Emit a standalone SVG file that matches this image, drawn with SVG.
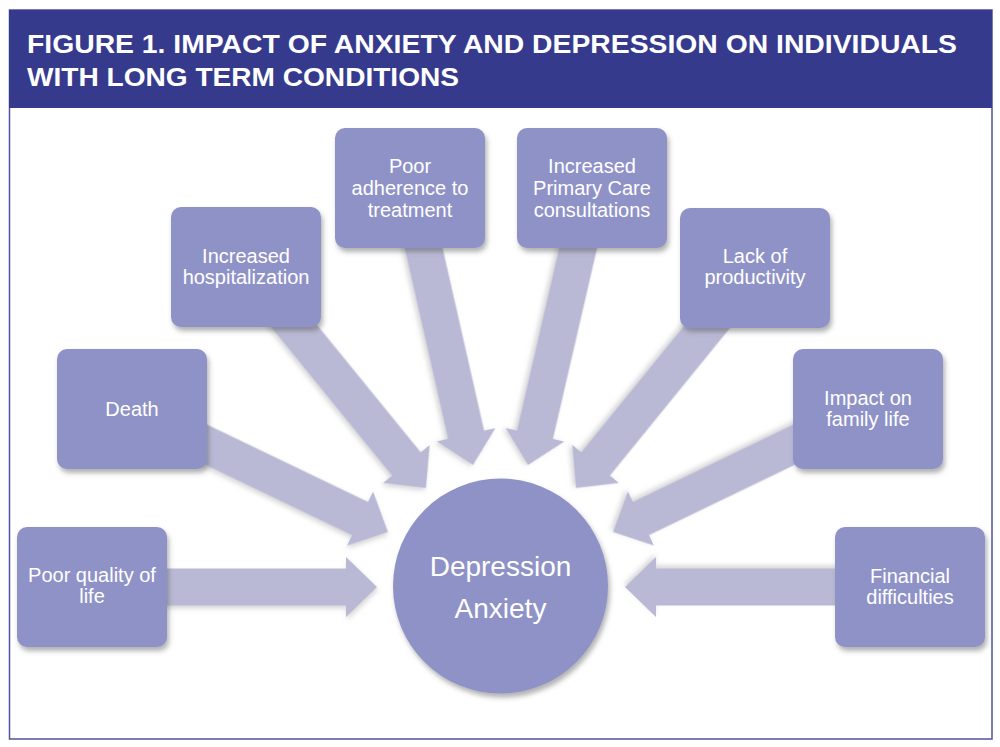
<svg xmlns="http://www.w3.org/2000/svg" width="1000" height="747" viewBox="0 0 1000 747">
<style>
.box{fill:#8f92c7;filter:url(#sh)}
.lbl{fill:#ffffff;font-family:"Liberation Sans",Arial,sans-serif;font-size:20px;text-anchor:middle}
.big{font-size:28px}
.arrow{fill:#b9b9d5;filter:url(#ash)}
.title{fill:#ffffff;font-family:"Liberation Sans",Arial,sans-serif;font-weight:bold;font-size:25px}
</style>
<defs>
<filter id="sh" x="-20%" y="-20%" width="140%" height="140%">
<feDropShadow dx="2" dy="4" stdDeviation="2.5" flood-color="#555555" flood-opacity="0.45"/>
</filter>
<filter id="ash" x="-20%" y="-20%" width="140%" height="140%">
<feDropShadow dx="1" dy="3" stdDeviation="2.5" flood-color="#777777" flood-opacity="0.3"/>
</filter>
<path id="arr" d="M-284,-18.5 L-31,-18.5 L-31,-30 L0,0 L-31,30 L-31,18.5 L-284,18.5 Z"/>
</defs>
<rect x="0" y="0" width="1000" height="747" fill="#ffffff"/>
<rect x="9.5" y="10" width="982.5" height="729" fill="#ffffff" stroke="#4e52a0" stroke-width="1.5"/>
<g id="header">
<rect x="9" y="10" width="983" height="98" fill="#363a8d"/>
<text class="title" x="27" y="53" textLength="930" lengthAdjust="spacingAndGlyphs">FIGURE 1. IMPACT OF ANXIETY AND DEPRESSION ON INDIVIDUALS</text>
<text class="title" x="27" y="86" textLength="432" lengthAdjust="spacingAndGlyphs">WITH LONG TERM CONDITIONS</text>
</g>
<g id="connectors">
<use href="#arr" class="arrow" transform="translate(377,587)"/>
<use href="#arr" class="arrow" transform="translate(388,532) rotate(25.66)"/>
<use href="#arr" class="arrow" transform="translate(426,488) rotate(50.84)"/>
<use href="#arr" class="arrow" transform="translate(473,465) rotate(77.19)"/>
<use href="#arr" class="arrow" transform="translate(528,465) rotate(103.01)"/>
<use href="#arr" class="arrow" transform="translate(576,488) rotate(129.13)"/>
<use href="#arr" class="arrow" transform="translate(613,532) rotate(154.25)"/>
<use href="#arr" class="arrow" transform="translate(625,587) rotate(180)"/>
</g>
<g id="center">
<circle class="box" cx="500.5" cy="586" r="107.5"/>
<text class="lbl big" x="500.5" y="576">Depression</text>
<text class="lbl big" x="500.5" y="618">Anxiety</text>
</g>
<g id="poor-quality">
<rect class="box" x="17" y="527" width="150" height="120" rx="10"/>
<text class="lbl" x="92" y="582">Poor quality of</text>
<text class="lbl" x="92" y="603">life</text>
</g>
<g id="death">
<rect class="box" x="57" y="349" width="150" height="120" rx="10"/>
<text class="lbl" x="132" y="416">Death</text>
</g>
<g id="hospitalization">
<rect class="box" x="171" y="207" width="150" height="120" rx="10"/>
<text class="lbl" x="246" y="263">Increased</text>
<text class="lbl" x="246" y="284">hospitalization</text>
</g>
<g id="adherence">
<rect class="box" x="335" y="128" width="150" height="120" rx="10"/>
<text class="lbl" x="410" y="173">Poor</text>
<text class="lbl" x="410" y="195">adherence to</text>
<text class="lbl" x="410" y="217">treatment</text>
</g>
<g id="primary-care">
<rect class="box" x="517" y="128" width="150" height="120" rx="10"/>
<text class="lbl" x="592" y="173">Increased</text>
<text class="lbl" x="592" y="195">Primary Care</text>
<text class="lbl" x="592" y="217">consultations</text>
</g>
<g id="productivity">
<rect class="box" x="680" y="208" width="150" height="120" rx="10"/>
<text class="lbl" x="755" y="263">Lack of</text>
<text class="lbl" x="755" y="284">productivity</text>
</g>
<g id="family-life">
<rect class="box" x="793" y="349" width="150" height="120" rx="10"/>
<text class="lbl" x="868" y="405">Impact on</text>
<text class="lbl" x="868" y="426">family life</text>
</g>
<g id="financial">
<rect class="box" x="835" y="527" width="150" height="120" rx="10"/>
<text class="lbl" x="910" y="583">Financial</text>
<text class="lbl" x="910" y="604">difficulties</text>
</g>
</svg>
